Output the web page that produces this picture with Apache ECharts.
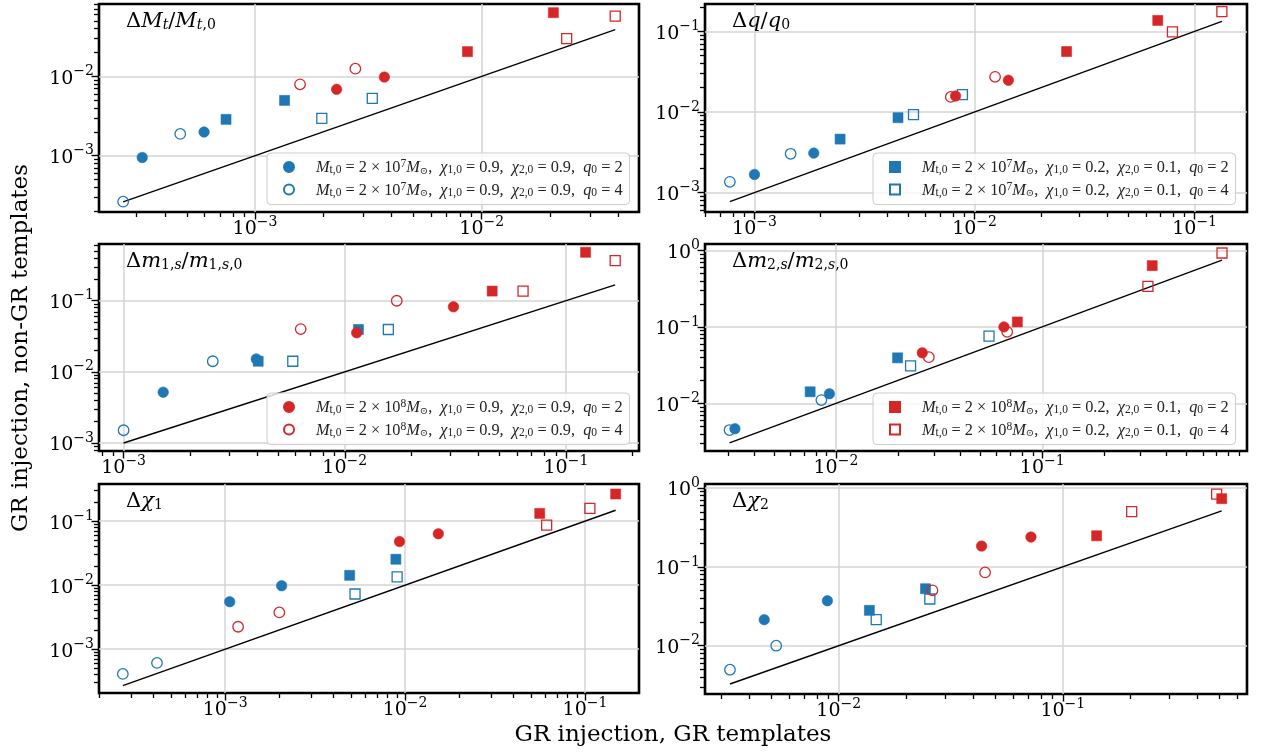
<!DOCTYPE html>
<html><head><meta charset="utf-8">
<script src="https://cdn.jsdelivr.net/npm/echarts@6/dist/echarts.min.js"></script>
<style>html,body{margin:0;padding:0;background:#fff}#c{width:1262px;height:753px}</style>
</head><body><div id="c"></div>
<script>
// ================= DATA =================
// Panel: ΔM_t / M_t,0
const mt_bc2 = [[3.18e-4, 9.5e-4], [5.96e-4, 1.99e-3]];
const mt_bc4 = [[2.62e-4, 2.63e-4], [4.68e-4, 1.88e-3]];
const mt_bs2 = [[7.45e-4, 2.87e-3], [1.35e-3, 4.98e-3]];
const mt_bs4 = [[1.97e-3, 2.96e-3], [3.29e-3, 5.28e-3]];
const mt_rc2 = [[2.29e-3, 6.86e-3], [3.72e-3, 9.8e-3]];
const mt_rc4 = [[1.58e-3, 7.93e-3], [2.77e-3, 0.0125]];
const mt_rs2 = [[8.65e-3, 0.0205], [0.0207, 0.0635]];
const mt_rs4 = [[0.0237, 0.0299], [0.0388, 0.0576]];
const mt_line = [2.62e-4, 0.0388];

// Panel: Δq / q_0
const q_bc2 = [[1.0e-3, 1.68e-3], [1.86e-3, 3.09e-3]];
const q_bc4 = [[7.73e-4, 1.36e-3], [1.46e-3, 3.03e-3]];
const q_bs2 = [[2.45e-3, 4.61e-3], [4.49e-3, 8.5e-3]];
const q_bs4 = [[5.28e-3, 9.27e-3], [8.81e-3, 0.0164]];
const q_rc2 = [[8.2e-3, 0.0158], [0.01425, 0.0248]];
const q_rc4 = [[7.8e-3, 0.0154], [0.0124, 0.0273]];
const q_rs2 = [[0.0262, 0.0563], [0.068, 0.137]];
const q_rs4 = [[0.0793, 0.099], [0.133, 0.176]];
const q_line = [7.73e-4, 0.133];

// Panel: Δm_1,s / m_1,s,0
const m1_bc2 = [[1.51e-3, 5.18e-3], [3.98e-3, 0.0152]];
const m1_bc4 = [[1.0e-3, 1.51e-3], [2.53e-3, 0.0141]];
const m1_bs2 = [[4.06e-3, 0.0141], [0.01153, 0.0394]];
const m1_bs4 = [[5.82e-3, 0.0141], [0.01574, 0.0394]];
const m1_rc2 = [[0.01132, 0.0354], [0.031, 0.0822]];
const m1_rc4 = [[6.32e-3, 0.0399], [0.01718, 0.1]];
const m1_rs2 = [[0.0464, 0.1368], [0.1227, 0.48]];
const m1_rs4 = [[0.064, 0.1368], [0.167, 0.366]];
const m1_line = [1.0e-3, 0.167];

// Panel: Δm_2,s / m_2,s,0
const m2_bc2 = [[3.24e-3, 4.67e-3], [9.3e-3, 0.01337]];
const m2_bc4 = [[3.05e-3, 4.49e-3], [8.5e-3, 0.01105]];
const m2_bs2 = [[7.5e-3, 0.01419], [0.0199, 0.0394]];
const m2_bs4 = [[0.023, 0.031], [0.0552, 0.0755]];
const m2_rc2 = [[0.0262, 0.0458], [0.0652, 0.1]];
const m2_rc4 = [[0.0282, 0.0402], [0.0676, 0.0861]];
const m2_rs2 = [[0.0757, 0.116], [0.341, 0.631]];
const m2_rs4 = [[0.325, 0.339], [0.743, 0.923]];
const m2_line = [3.05e-3, 0.743];

// Panel: Δχ_1
const c1_bc2 = [[1.06e-3, 5.52e-3], [2.06e-3, 9.8e-3]];
const c1_bc4 = [[2.7e-4, 4.11e-4], [4.18e-4, 6.11e-4]];
const c1_bs2 = [[4.92e-3, 0.01425], [8.89e-3, 0.0254]];
const c1_bs4 = [[5.27e-3, 7.28e-3], [9.03e-3, 0.01343]];
const c1_rc2 = [[9.31e-3, 0.048], [0.0153, 0.0634]];
const c1_rc4 = [[1.18e-3, 2.24e-3], [2.0e-3, 3.75e-3]];
const c1_rs2 = [[0.056, 0.132], [0.148, 0.265]];
const c1_rs4 = [[0.0612, 0.0865], [0.1064, 0.158]];
const c1_line = [2.7e-4, 0.148];

// Panel: Δχ_2
const c2_bc2 = [[4.65e-3, 0.0214], [8.9e-3, 0.0372]];
const c2_bc4 = [[3.27e-3, 4.96e-3], [5.26e-3, 0.01]];
const c2_bs2 = [[0.0137, 0.0281], [0.0244, 0.0528]];
const c2_bs4 = [[0.0147, 0.0214], [0.0255, 0.0391]];
const c2_rc2 = [[0.0434, 0.1835], [0.0721, 0.239]];
const c2_rc4 = [[0.0262, 0.0504], [0.045, 0.0851]];
const c2_rs2 = [[0.1416, 0.248], [0.512, 0.733]];
const c2_rs4 = [[0.203, 0.501], [0.486, 0.839]];
const c2_line = [3.27e-3, 0.512];

// Major tick values (labels 10^k)
const mt_xTicks = [1e-3, 1e-2],        mt_yTicks = [1e-3, 1e-2];
const q_xTicks  = [1e-3, 1e-2, 1e-1],  q_yTicks  = [1e-3, 1e-2, 1e-1];
const m1_xTicks = [1e-3, 1e-2, 1e-1],  m1_yTicks = [1e-3, 1e-2, 1e-1];
const m2_xTicks = [1e-2, 1e-1],        m2_yTicks = [1e-2, 1e-1, 1];
const c1_xTicks = [1e-3, 1e-2, 1e-1],  c1_yTicks = [1e-3, 1e-2, 1e-1];
const c2_xTicks = [1e-2, 1e-1],        c2_yTicks = [1e-2, 1e-1, 1];

// Legend entries
const NAME = {
  bc2: 'M_t,0 = 2×10^7 M⊙, χ_1,0 = 0.9, χ_2,0 = 0.9, q_0 = 2',
  bc4: 'M_t,0 = 2×10^7 M⊙, χ_1,0 = 0.9, χ_2,0 = 0.9, q_0 = 4',
  bs2: 'M_t,0 = 2×10^7 M⊙, χ_1,0 = 0.2, χ_2,0 = 0.1, q_0 = 2',
  bs4: 'M_t,0 = 2×10^7 M⊙, χ_1,0 = 0.2, χ_2,0 = 0.1, q_0 = 4',
  rc2: 'M_t,0 = 2×10^8 M⊙, χ_1,0 = 0.9, χ_2,0 = 0.9, q_0 = 2',
  rc4: 'M_t,0 = 2×10^8 M⊙, χ_1,0 = 0.9, χ_2,0 = 0.9, q_0 = 4',
  rs2: 'M_t,0 = 2×10^8 M⊙, χ_1,0 = 0.2, χ_2,0 = 0.1, q_0 = 2',
  rs4: 'M_t,0 = 2×10^8 M⊙, χ_1,0 = 0.2, χ_2,0 = 0.1, q_0 = 4'
};
const LEG_PARTS = { // [mass exponent, chi1, chi2, q0]
  bc2: ['7', '0.9', '0.9', '2'], bc4: ['7', '0.9', '0.9', '4'],
  bs2: ['7', '0.2', '0.1', '2'], bs4: ['7', '0.2', '0.1', '4'],
  rc2: ['8', '0.9', '0.9', '2'], rc4: ['8', '0.9', '0.9', '4'],
  rs2: ['8', '0.2', '0.1', '2'], rs4: ['8', '0.2', '0.1', '4']
};

// ================= STYLE / LAYOUT =================
const BLUE = '#1f77b4', RED = '#d62728';
const SERIF = '"DejaVu Serif", "Liberation Serif", serif';
const LSERIF = '"Liberation Serif", "DejaVu Serif", serif';

const GROUPS = {
  bc4: {symbol: 'circle', color: BLUE, open: true},
  bc2: {symbol: 'circle', color: BLUE, open: false},
  bs4: {symbol: 'rect', color: BLUE, open: true},
  bs2: {symbol: 'rect', color: BLUE, open: false},
  rc4: {symbol: 'circle', color: RED, open: true},
  rc2: {symbol: 'circle', color: RED, open: false},
  rs4: {symbol: 'rect', color: RED, open: true},
  rs2: {symbol: 'rect', color: RED, open: false}
};
const ORDER = ['bc4', 'bc2', 'bs4', 'bs2', 'rc4', 'rc2', 'rs4', 'rs2'];

const panels = [
  {grid: {left: 99, top: 4, width: 540, height: 208}, xr: [2.05e-4, 0.0494], yr: [1.95e-4, 0.0817],
   xt: mt_xTicks, yt: mt_yTicks, line: mt_line,
   data: {bc2: mt_bc2, bc4: mt_bc4, bs2: mt_bs2, bs4: mt_bs4, rc2: mt_rc2, rc4: mt_rc4, rs2: mt_rs2, rs4: mt_rs4},
   title: '{d|Δ}{i|M}{si|t}{r|/}{i|M}{si|t}{s|,0}', legend: ['bc2', 'bc4'], legPos: [267, 153]},
  {grid: {left: 705, top: 4, width: 542, height: 208}, xr: [5.96e-4, 0.173], yr: [5.74e-4, 0.219],
   xt: q_xTicks, yt: q_yTicks, line: q_line,
   data: {bc2: q_bc2, bc4: q_bc4, bs2: q_bs2, bs4: q_bs4, rc2: q_rc2, rc4: q_rc4, rs2: q_rs2, rs4: q_rs4},
   title: '{d|Δ}{i|q}{r|/}{i|q}{s|0}', legend: ['bs2', 'bs4'], legPos: [873, 153]},
  {grid: {left: 99, top: 244, width: 540, height: 207}, xr: [7.74e-4, 0.214], yr: [7.71e-4, 0.628],
   xt: m1_xTicks, yt: m1_yTicks, line: m1_line,
   data: {bc2: m1_bc2, bc4: m1_bc4, bs2: m1_bs2, bs4: m1_bs4, rc2: m1_rc2, rc4: m1_rc4, rs2: m1_rs2, rs4: m1_rs4},
   title: '{d|Δ}{i|m}{s|1,}{si|s}{r|/}{i|m}{s|1,}{si|s}{s|,0}', legend: ['rc2', 'rc4'], legPos: [267, 393]},
  {grid: {left: 705, top: 244, width: 542, height: 207}, xr: [2.32e-3, 0.982], yr: [2.39e-3, 1.21],
   xt: m2_xTicks, yt: m2_yTicks, line: m2_line,
   data: {bc2: m2_bc2, bc4: m2_bc4, bs2: m2_bs2, bs4: m2_bs4, rc2: m2_rc2, rc4: m2_rc4, rs2: m2_rs2, rs4: m2_rs4},
   title: '{d|Δ}{i|m}{s|2,}{si|s}{r|/}{i|m}{s|2,}{si|s}{s|,0}', legend: ['rs2', 'rs4'], legPos: [873, 393]},
  {grid: {left: 99, top: 484, width: 540, height: 209}, xr: [1.99e-4, 0.1995], yr: [2.07e-4, 0.380],
   xt: c1_xTicks, yt: c1_yTicks, line: c1_line,
   data: {bc2: c1_bc2, bc4: c1_bc4, bs2: c1_bs2, bs4: c1_bs4, rc2: c1_rc2, rc4: c1_rc4, rs2: c1_rs2, rs4: c1_rs4},
   title: '{d|Δ}{i|χ}{s|1}', legend: null},
  {grid: {left: 705, top: 484, width: 542, height: 210}, xr: [2.53e-3, 0.664], yr: [2.44e-3, 1.125],
   xt: c2_xTicks, yt: c2_yTicks, line: c2_line,
   data: {bc2: c2_bc2, bc4: c2_bc4, bs2: c2_bs2, bs4: c2_bs4, rc2: c2_rc2, rc4: c2_rc4, rs2: c2_rs2, rs4: c2_rs4},
   title: '{d|Δ}{i|χ}{s|2}', legend: null}
];

function minorTicks(lo, hi) {
  const out = [];
  for (let e = Math.floor(Math.log10(lo)); e <= Math.ceil(Math.log10(hi)); e++) {
    for (let k = 2; k <= 9; k++) {
      const v = parseFloat((k * Math.pow(10, e)).toPrecision(6));
      if (v >= lo && v <= hi) out.push(v);
    }
  }
  return out;
}

const tickRich = {
  b: {fontFamily: SERIF, fontSize: 19, lineHeight: 24, verticalAlign: 'bottom', color: '#000'},
  s: {fontFamily: SERIF, fontSize: 14, lineHeight: 14, verticalAlign: 'top', color: '#000'}
};
function tickFmt(v) {
  const e = Math.round(Math.log10(v));
  return '{b|10}{s|' + (e < 0 ? '\u2212' + (-e) : String(e)) + '}';
}

const LFS = 16.3, LSS = 11.5;
const legRich = {
  i0: {fontFamily: LSERIF, fontStyle: 'italic', fontSize: LFS, lineHeight: 18, verticalAlign: 'bottom', color: '#222', padding: [0, 0, 0, 17]},
  i: {fontFamily: LSERIF, fontStyle: 'italic', fontSize: LFS, lineHeight: 18, verticalAlign: 'bottom', color: '#222'},
  r: {fontFamily: LSERIF, fontSize: LFS, lineHeight: 18, verticalAlign: 'bottom', color: '#222'},
  s: {fontFamily: LSERIF, fontSize: LSS, lineHeight: 10, verticalAlign: 'bottom', color: '#222'},
  p: {fontFamily: LSERIF, fontSize: LSS, lineHeight: 10, verticalAlign: 'top', color: '#222'},
  o: {fontFamily: SERIF, fontSize: 10, lineHeight: 10, verticalAlign: 'bottom', color: '#222'}
};
function legendText(key) {
  const p = LEG_PARTS[key];
  return '{i0|M}{s|t,0}{r| = 2 × 10}{p|' + p[0] + '}{i|M}{o|⊙}{r|,  }{i|χ}{s|1,0}{r| = ' + p[1] +
    ',  }{i|χ}{s|2,0}{r| = ' + p[2] + ',  }{i|q}{s|0}{r| = ' + p[3] + '}';
}
const NAME2KEY = {};
Object.keys(NAME).forEach(k => { NAME2KEY[NAME[k]] = k; });

const TFS = 21, TSS = 14;
const titleRich = {
  d: {fontFamily: SERIF, fontSize: TFS, lineHeight: 26, verticalAlign: 'bottom', fill: '#000', color: '#000'},
  r: {fontFamily: SERIF, fontSize: TFS, lineHeight: 26, verticalAlign: 'bottom', fill: '#000', color: '#000'},
  i: {fontFamily: SERIF, fontStyle: 'italic', fontSize: TFS, lineHeight: 26, verticalAlign: 'bottom', fill: '#000', color: '#000'},
  s: {fontFamily: SERIF, fontSize: TSS, lineHeight: 13, verticalAlign: 'bottom', fill: '#000', color: '#000'},
  si: {fontFamily: SERIF, fontStyle: 'italic', fontSize: TSS, lineHeight: 13, verticalAlign: 'bottom', fill: '#000', color: '#000'}
};

// ================= BUILD OPTION =================
const grids = [], xAxes = [], yAxes = [], series = [], legends = [], graphics = [];
panels.forEach((p, i) => {
  grids.push(Object.assign({show: true, borderColor: '#000', borderWidth: 2.6, backgroundColor: 'transparent',
    containLabel: false, outerBoundsMode: 'none'}, p.grid));
  const major = (dim, r, ticks) => ({
    type: 'log', gridIndex: i, min: r[0], max: r[1], position: dim === 'x' ? 'bottom' : 'left',
    axisLine: {show: false},
    axisTick: {show: true, inside: false, length: 7.5, customValues: ticks, lineStyle: {color: '#000', width: 1.4}},
    axisLabel: {show: true, customValues: ticks, formatter: tickFmt, rich: tickRich, color: '#000',
      margin: dim === 'x' ? 3 : 5},
    splitLine: {show: true, lineStyle: {color: '#d4d4d4', width: 1.5}},
    minorTick: {show: false}, minorSplitLine: {show: false}
  });
  const minor = (dim, r) => ({
    type: 'log', gridIndex: i, min: r[0], max: r[1], position: dim === 'x' ? 'bottom' : 'left',
    axisLine: {show: false},
    axisTick: {show: true, inside: false, length: 5, customValues: minorTicks(r[0], r[1]), lineStyle: {color: '#000', width: 1.3}},
    axisLabel: {show: false},
    splitLine: {show: false}
  });
  xAxes.push(major('x', p.xr, p.xt), minor('x', p.xr));
  yAxes.push(major('y', p.yr, p.yt), minor('y', p.yr));

  // the y = x reference line lives on the (identically scaled) minor-tick axes
  series.push({
    type: 'line', xAxisIndex: 2 * i + 1, yAxisIndex: 2 * i + 1, silent: true, z: 1,
    data: [[p.line[0], p.line[0]], [p.line[1], p.line[1]]],
    symbol: 'none', lineStyle: {color: '#000', width: 1.4}
  });
  ORDER.forEach(key => {
    const g = GROUPS[key];
    series.push({
      type: 'scatter', name: NAME[key], xAxisIndex: 2 * i, yAxisIndex: 2 * i, z: 3,
      data: p.data[key], symbol: g.symbol, symbolSize: g.symbol === 'circle' ? 10.5 : 10,
      itemStyle: g.open
        ? {color: 'rgba(255,255,255,0)', borderColor: g.color, borderWidth: 1.3, opacity: 1}
        : {color: g.color, borderColor: g.color, borderWidth: 0.6, opacity: 1},
      emphasis: {disabled: true}
    });
  });
  if (p.legend) {
    legends.push({
      orient: 'vertical', left: p.legPos[0], top: p.legPos[1], selectedMode: false,
      data: p.legend.map(k => NAME[k]),
      itemWidth: 10, itemHeight: 10, itemGap: 4.6,
      padding: [5, 7, 6, 16],
      backgroundColor: 'rgba(255,255,255,0.8)', borderColor: '#cccccc', borderWidth: 1, borderRadius: 4,
      formatter: n => legendText(NAME2KEY[n]),
      textStyle: {rich: legRich, lineHeight: 18},
      itemStyle: {opacity: 1}
    });
  }
  graphics.push({
    type: 'text', x: p.grid.left + 27, y: p.grid.top + 15, z: 10,
    style: {text: p.title, rich: titleRich, align: 'left', verticalAlign: 'middle', fill: '#000'}
  });
});

graphics.push({
  type: 'text', x: 673, y: 735, z: 10,
  style: {text: 'GR injection, GR templates', font: '23px "DejaVu Serif"', fill: '#000', align: 'center', verticalAlign: 'middle'}
});
graphics.push({
  type: 'text', x: 21, y: 348, rotation: Math.PI / 2, z: 10,
  style: {text: 'GR injection, non-GR templates', font: '23px "DejaVu Serif"', fill: '#000', align: 'center', verticalAlign: 'middle'}
});

const chart = echarts.init(document.getElementById('c'), null, {renderer: 'canvas'});
chart.setOption({
  backgroundColor: '#fff',
  animation: false,
  grid: grids, xAxis: xAxes, yAxis: yAxes, series: series, legend: legends, graphic: graphics
});
</script></body></html>
